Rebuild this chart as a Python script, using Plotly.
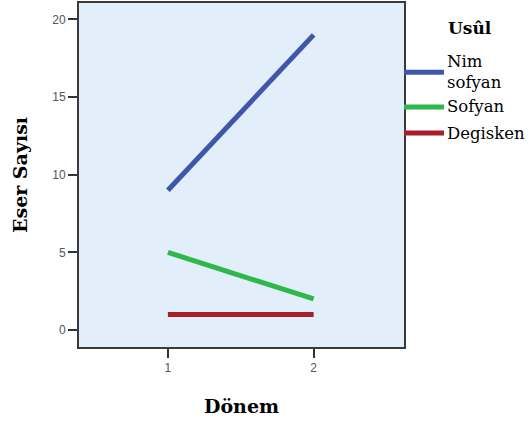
import plotly.graph_objects as go

periods = [1, 2]
series_names = ["Nim sofyan", "Sofyan", "Degisken"]
legend_labels = ["Nim<br>sofyan", "Sofyan", "Degisken"]
nim_sofyan = [9, 19]
sofyan = [5, 2]
degisken = [1, 1]
colors = ["#3f56ab", "#2fb84a", "#a81d27"]
y_ticks = [0, 5, 10, 15, 20]
x_ticks = [1, 2]

SERIF = "DejaVu Serif"

fig = go.Figure()
for name, vals, c in zip(series_names, [nim_sofyan, sofyan, degisken], colors):
    fig.add_trace(go.Scatter(x=periods, y=vals, mode="lines", name=name,
                             line=dict(color=c, width=5), showlegend=False))

# manual legend (keys 40px long like the reference)
legend_y = [0.799, 0.698, 0.622]
for lab, c, ly in zip(legend_labels, colors, legend_y):
    fig.add_shape(type="line", xref="paper", yref="paper", x0=1.0, x1=1.123, y0=ly, y1=ly,
                  line=dict(color=c, width=5))
    fig.add_annotation(xref="paper", yref="paper", x=1.125, y=ly, xanchor="left", yanchor="middle",
                       text=lab, showarrow=False, align="left",
                       font=dict(family=SERIF, size=16.5, color="black"))
fig.add_annotation(xref="paper", yref="paper", x=1.128, y=0.927, xanchor="left", yanchor="middle",
                   text="<b>Usûl</b>", showarrow=False,
                   font=dict(family=SERIF, size=17, color="black"))

fig.update_layout(
    width=531, height=423,
    margin=dict(l=79, r=127, t=3, b=76),
    paper_bgcolor="white",
    plot_bgcolor="#e2eefa",
    showlegend=False,
    xaxis=dict(
        range=[0.39, 2.62], tickvals=x_ticks, ticks="outside", ticklen=9, tickwidth=2,
        tickcolor="#333", showgrid=False, zeroline=False, automargin=False,
        showline=True, linecolor="#3a3a3a", linewidth=2, mirror=True,
        tickfont=dict(family="Liberation Sans", size=12, color="#555"),
        title=dict(text="<b>Dönem</b>", font=dict(family=SERIF, size=19, color="black"), standoff=25),
    ),
    yaxis=dict(
        range=[-1.09, 21.05], tickvals=y_ticks, ticks="outside", ticklen=9, tickwidth=2,
        tickcolor="#333", showgrid=False, zeroline=False, automargin=False,
        showline=True, linecolor="#3a3a3a", linewidth=2, mirror=True,
        tickfont=dict(family="Liberation Sans", size=12, color="#555"),
        title=dict(text="<b>Eser Sayısı</b>", font=dict(family=SERIF, size=19, color="black"), standoff=20),
    ),
)
fig.write_html("out.html", config={"displayModeBar": False},
               post_script="document.body.style.margin='0';")
